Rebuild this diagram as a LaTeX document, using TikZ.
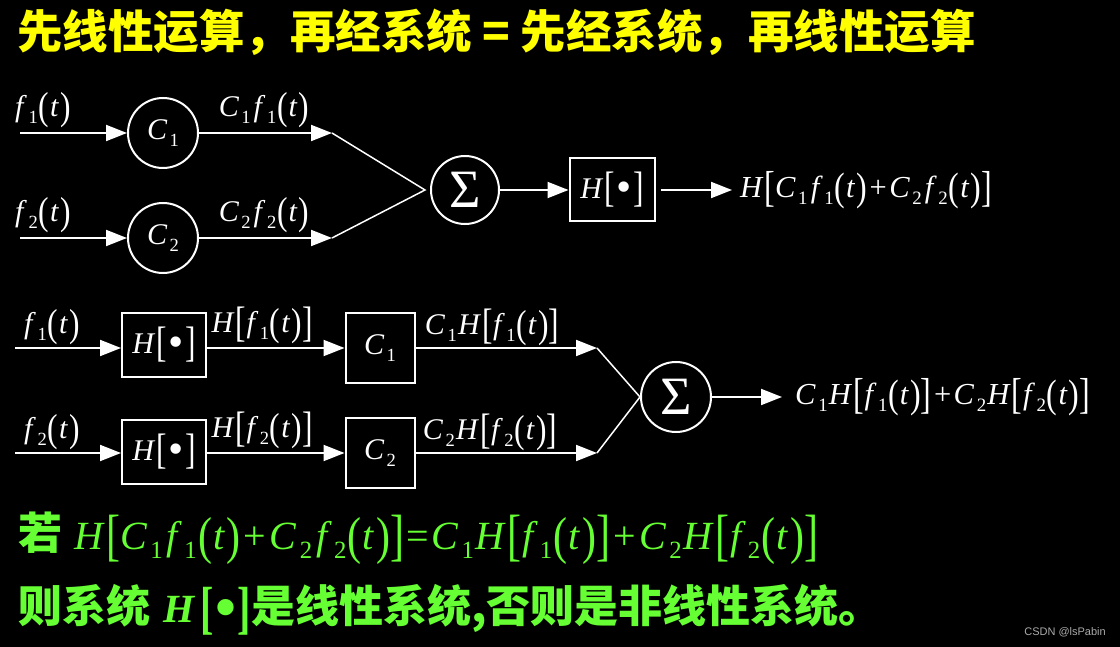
\documentclass[tikz,border=0pt]{standalone}
\usepackage{graphicx}
\usepackage{fontspec}
\newfontfamily\cjk{Noto Sans CJK SC}
\newfontfamily\tms{Liberation Serif}
\newfontfamily\wsans{Liberation Sans}
\usetikzlibrary{arrows.meta}
\definecolor{ttlyellow}{RGB}{255,255,0}
\definecolor{ttlgreen}{RGB}{102,255,51}
\definecolor{wmgray}{RGB}{170,170,170}
\newcommand\vr[1]{\textit{#1}}
\newcommand\sbs[1]{\raisebox{-0.24em}{\scalebox{0.62}{#1}}}
\newcommand\lp{\raisebox{-0.1em}{\scalebox{1.05}[1.3]{(}}}
\newcommand\rp{\raisebox{-0.1em}{\scalebox{1.05}[1.3]{)}}}
\newcommand\lb{\raisebox{-0.13em}{\scalebox{1.05}[1.42]{[}}}
\newcommand\rb{\raisebox{-0.13em}{\scalebox{1.05}[1.42]{]}}}
\newcommand\fx[1]{\vr{f}\kern0.05em\sbs{#1}\kern0.03em\lp\kern0.03em\vr{t}\kern0.04em\rp}
\newcommand\Cf[1]{\vr{C}\kern0.08em\sbs{#1}\kern0.1em\fx{#1}}
\newcommand\Hf[1]{\vr{H}\kern0.03em\lb\kern0.02em\fx{#1}\rb}
\newcommand\CHf[1]{\vr{C}\kern0.08em\sbs{#1}\kern0.04em\Hf{#1}}
\newcommand\pls{\kern0.08em+\kern0.08em}
\newcommand\Hdot{\vr{H}\kern0.03em\lb\kern0.05em\raisebox{-0.13em}{\scalebox{1.45}{•}}\kern0.05em\rb}
\tikzset{
  mfont/.style={font=\tms\fontsize{30}{30}\selectfont},
  lbl/.style={text=white, mfont, inner sep=0pt},
  circnode/.style={circle, draw=white, line width=2pt, minimum size=70pt, inner sep=0pt, text=white, mfont},
  blk/.style={rectangle, draw=white, line width=2pt, inner sep=0pt, text=white, mfont},
  arr/.style={draw=white, line width=2pt, -{Triangle[length=21pt,width=16pt]}},
  thinline/.style={draw=white, line width=1.5pt},
  sigma/.style={font=\tms\fontsize{54}{54}\selectfont},
}
\begin{document}
\begin{tikzpicture}[x=1pt,y=-1pt]
\fill[black] (0,0) rectangle (1120,647);
\useasboundingbox (0,0) rectangle (1120,647);
% title
\node[anchor=west, text=ttlyellow, inner sep=0pt, font=\cjk\bfseries\fontsize{45.5}{45.5}\selectfont] (title) at (17,32) {先线性运算，再经系统 = 先经系统，再线性运算};
% ---------- top diagram ----------
\coordinate (in1) at (20,133);
\coordinate (in2) at (20,238);
\node[circnode] (c1) at (163,133) {\raisebox{-0.1em}{\vr{C}\kern0.08em\sbs{1}}};
\node[circnode] (c2) at (163,238) {\raisebox{-0.1em}{\vr{C}\kern0.08em\sbs{2}}};
\coordinate (j1) at (332,133);
\coordinate (j2) at (332,238);
\coordinate (m1) at (425,190);
\node[circnode, minimum size=68pt, sigma] (sig1) at (465,190) {\raisebox{-0.05em}{Σ}};
\node[blk, minimum width=85pt, minimum height=63pt] (h1) at (612,190) {\Hdot};
\coordinate (o1) at (732,190);
\node[lbl] (lf1) at (43,110) {\fx{1}};
\node[lbl] (lf2) at (43,215) {\fx{2}};
\node[lbl] (lc1) at (264,110) {\Cf{1}};
\node[lbl] (lc2) at (264,215) {\Cf{2}};
\node[lbl, anchor=west, font=\tms\fontsize{30.5}{30.5}\selectfont] (out1) at (740,190) {\vr{H}\kern0.03em\lb\Cf{1}\pls\Cf{2}\rb};
\draw[arr] (in1) -- (c1);
\draw[arr] (in2) -- (c2);
\draw[arr] (c1) -- (j1);
\draw[arr] (c2) -- (j2);
\draw[thinline] (j1) -- (m1) -- (j2);
\draw[arr] (sig1) -- (h1);
\draw[arr] (h1.east) ++(5,0) coordinate (h1s) (h1s) -- (o1);
% ---------- bottom diagram ----------
\coordinate (in3) at (15,348);
\coordinate (in4) at (15,453);
\node[blk, minimum width=84pt, minimum height=64pt] (hb1) at (164,345) {\Hdot};
\node[blk, minimum width=84pt, minimum height=64pt] (hb2) at (164,452) {\Hdot};
\node[blk, minimum width=69pt, minimum height=70pt] (cb1) at (380,348) {\raisebox{-0.1em}{\vr{C}\kern0.08em\sbs{1}}};
\node[blk, minimum width=69pt, minimum height=70pt] (cb2) at (380,453) {\raisebox{-0.1em}{\vr{C}\kern0.08em\sbs{2}}};
\coordinate (j3) at (597,348);
\coordinate (j4) at (597,453);
\node[circnode, sigma] (sig2) at (676,397) {\raisebox{-0.05em}{Σ}};
\coordinate (o2) at (782,397);
\node[lbl] (lf3) at (52,327) {\fx{1}};
\node[lbl] (lf4) at (52,432) {\fx{2}};
\node[lbl] (lh1) at (262,325) {\Hf{1}};
\node[lbl] (lh2) at (262,430) {\Hf{2}};
\node[lbl] (lch1) at (492,327) {\CHf{1}};
\node[lbl] (lch2) at (490,432) {\CHf{2}};
\node[lbl, anchor=west, font=\tms\fontsize{30.5}{30.5}\selectfont] (out2) at (795,397) {\CHf{1}\pls\CHf{2}};
\draw[arr] (in3) -- (in3 -| hb1.west);
\draw[arr] (in4) -- (in4 -| hb2.west);
\draw[arr] (hb1.east |- j3) -- (cb1.west |- j3);
\draw[arr] (hb2.east |- j4) -- (cb2.west |- j4);
\draw[arr] (cb1.east |- j3) -- (j3);
\draw[arr] (cb2.east |- j4) -- (j4);
\draw[thinline] (j3) -- (sig2.west) -- (j4);
\draw[arr] (sig2) -- (o2);
% ---------- bottom text ----------
\node[anchor=west, text=ttlgreen, inner sep=0pt, font=\tms\fontsize{40}{40}\selectfont] (cond) at (18,538)
  {{\cjk\bfseries\fontsize{44}{44}\selectfont 若}\kern0.3em\vr{H}\kern0.03em\lb\Cf{1}\pls\Cf{2}\rb\kern0.05em=\kern0.06em\CHf{1}\pls\CHf{2}};
\node[anchor=west, text=ttlgreen, inner sep=0pt, font=\cjk\bfseries\fontsize{44}{44}\selectfont] (concl) at (18,610)
  {则系统\kern0.3em{\tms\fontsize{40}{40}\selectfont\vr{H}\kern0.12em\raisebox{-0.12em}{\scalebox{1}[1.45]{[}}\kern0.04em\raisebox{-0.12em}{\scalebox{1.5}{•}}\kern0.04em\raisebox{-0.12em}{\scalebox{1}[1.45]{]}}}是线性系统,否则是非线性系统。};
\node[anchor=east, text=wmgray, inner sep=0pt, font=\wsans\fontsize{11}{11}\selectfont] (wm) at (1106,632) {CSDN @lsPabin};
\end{tikzpicture}
\end{document}
